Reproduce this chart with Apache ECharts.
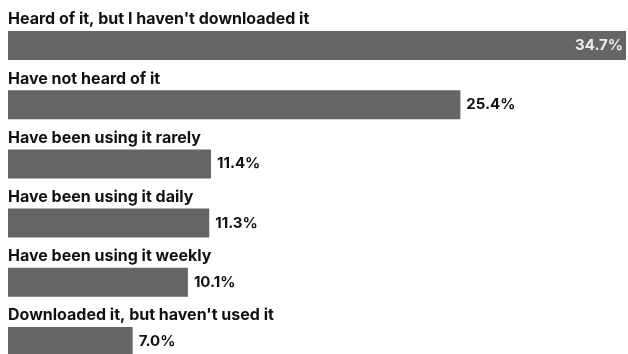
<!DOCTYPE html>
<html>
<head>
<meta charset="utf-8">
<script src="https://cdn.jsdelivr.net/npm/echarts@6/dist/echarts.min.js"></script>
<style>
  html, body { margin: 0; padding: 0; background: #fff; }
  #chart { width: 628px; height: 354px; }
</style>
</head>
<body>
<div id="chart"></div>
<script>
  const categories = [
    "Heard of it, but I haven't downloaded it",
    "Have not heard of it",
    "Have been using it rarely",
    "Have been using it daily",
    "Have been using it weekly",
    "Downloaded it, but haven't used it",
  ];
  const shares = [34.7, 25.4, 11.4, 11.3, 10.1, 7.0];

  const FONT = "Inter, 'Liberation Sans', sans-serif";

  const chart = echarts.init(document.getElementById("chart"), null, { renderer: "canvas" });

  chart.setOption({
    animation: false,
    backgroundColor: "#fff",
    grid: { left: 8, right: 2, top: 16, height: 355, outerBoundsMode: "none", containLabel: false },
    xAxis: {
      type: "value",
      min: 0,
      max: 34.7,
      show: false,
    },
    yAxis: {
      type: "category",
      inverse: true,
      data: categories,
      axisLine: { show: false },
      axisTick: { show: false },
      axisLabel: {
        inside: true,
        margin: 0,
        align: "left",
        verticalAlign: "bottom",
        padding: [0, 0, 18, 0],
        color: "#111",
        fontFamily: FONT,
        fontWeight: "bold",
        fontSize: 16,
        lineHeight: 16,
      },
    },
    series: [
      {
        type: "bar",
        barWidth: 29,
        itemStyle: { color: "#656565" },
        data: shares.map((v, i) => ({
          value: v,
          label: i === 0 ? { position: "insideRight", distance: 3, color: "#eeeeee" } : undefined,
        })),
        label: {
          show: true,
          position: "right",
          distance: 6,
          color: "#111",
          fontFamily: FONT,
          fontWeight: "bold",
          fontSize: 15,
          formatter: (p) => p.value.toFixed(1) + "%",
        },
      },
    ],
  });
</script>
</body>
</html>
